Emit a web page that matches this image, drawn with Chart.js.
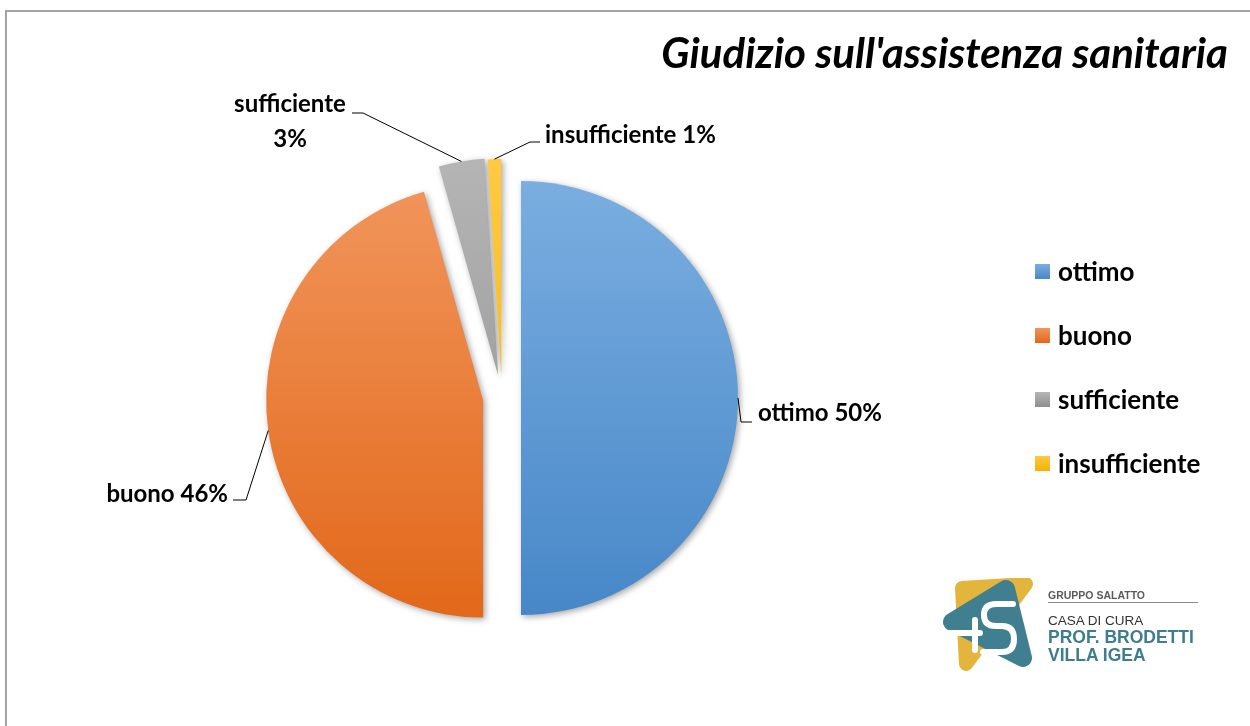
<!DOCTYPE html>
<html lang="it">
<head>
    <meta charset="UTF-8">
    <title>Giudizio sull'assistenza sanitaria</title>
    <style>
        body {
            margin: 0;
            background: #fff;
            font-family: Lato, "Open Sans", sans-serif;
        }
        .page {
            position: relative;
            width: 1250px;
            height: 726px;
            overflow: hidden;
        }
        .frame {
            position: absolute;
            left: 5px;
            top: 10px;
            width: 1300px;
            height: 800px;
            border: 2px solid #a3a3a3;
        }
        #chart {
            position: absolute;
            left: 0;
            top: 0;
        }
        .title {
            position: absolute;
            right: 22px;
            top: 30px;
            font-size: 42px;
            line-height: 44px;
            font-weight: bold;
            font-style: italic;
            color: #000;
        }
        .legend {
            position: absolute;
            left: 1035px;
            top: 239px;
        }
        .legend-item {
            display: flex;
            align-items: center;
            height: 64px;
            font-size: 26px;
            font-weight: bold;
        }
        .legend-item span.box {
            width: 15px;
            height: 15px;
            margin-right: 8px;
        }
        .logo {
            position: absolute;
            left: 942px;
            top: 578px;
        }
        .logo-line {
            position: absolute;
            left: 1048px;
            font-family: "Liberation Sans", Arial, sans-serif;
            white-space: nowrap;
            transform: translateY(-50%);
        }
        .grp {
            font-size: 10.5px;
            font-weight: bold;
            color: #5a5a5a;
            font-stretch: condensed;
        }
        .rule {
            position: absolute;
            left: 1048px;
            top: 602px;
            width: 150px;
            height: 1px;
            background: #8a8a8a;
        }
        .casa {
            font-size: 13.5px;
            color: #333;
        }
        .name {
            font-size: 17.5px;
            font-weight: bold;
            color: #3d7d8d;
        }
    </style>
</head>
<body>
<div class="page">
    <div class="frame"></div>
    <canvas id="chart" width="1250" height="726"></canvas>
    <div class="title">Giudizio sull'assistenza sanitaria</div>
    <div class="legend" id="legend"></div>

    <svg class="logo" width="94" height="96" viewBox="0 0 94 96">
        <polygon points="20,10 84,6 24,86" fill="#e3b53c" stroke="#e3b53c" stroke-width="14" stroke-linejoin="round"/>
        <polygon points="10,44 64,11 81,80" fill="#3f7f8f" stroke="#3f7f8f" stroke-width="18" stroke-linejoin="round"/>
        <path d="M4,55 L38,55 M33,42 L33,72" stroke="#fff" stroke-width="6" fill="none" stroke-linecap="round"/>
        <path d="M71,26 L54,26 Q42,26 42,37 Q42,48 54,48 L60,48 Q72,48 72,61 Q72,74 60,74 L41,74" stroke="#fff" stroke-width="6" fill="none" stroke-linecap="round"/>
    </svg>
    <div class="logo-line grp" style="top:595px">GRUPPO SALATTO</div>
    <div class="rule"></div>
    <div class="logo-line casa" style="top:620px">CASA DI CURA</div>
    <div class="logo-line name" style="top:637px">PROF. BRODETTI</div>
    <div class="logo-line name" style="top:655px">VILLA IGEA</div>
</div>

<script src="https://cdn.jsdelivr.net/npm/chart.js"></script>
<script>
    // data
    const categories = ['ottimo', 'buono', 'sufficiente', 'insufficiente'];
    const shares = [50, 45.6, 3.4, 1.0];

    // look
    const topColors = ['#7aaee0', '#f1955b', '#b5b5b5', '#ffc943'];
    const bottomColors = ['#4787c8', '#e2681a', '#8f8f8f', '#f2b300'];
    const explode = [19, 19, 23, 22];   // px each slice is pulled out
    const pieRadius = 217;

    // label text spots + leader line elbow (x, y) and end of the short horizontal tick
    const labelSpots = [
        { tx: 758, ty: 413, align: 'left',   ex: 741, ey: 422, hx: 752 },
        { tx: 228, ty: 494, align: 'right',  ex: 246, ey: 500, hx: 233 },
        { tx: 290, ty: 104, align: 'center', ex: 363, ey: 113, hx: 352, twoLines: true },
        { tx: 545, ty: 135, align: 'left',   ex: 530, ey: 142, hx: 540 }
    ];

    // legend (html)
    const legendEl = document.getElementById('legend');
    categories.forEach((name, i) => {
        const item = document.createElement('div');
        item.className = 'legend-item';
        const box = document.createElement('span');
        box.className = 'box';
        box.style.background = `linear-gradient(${topColors[i]}, ${bottomColors[i]})`;
        const txt = document.createElement('span');
        txt.textContent = name;
        item.appendChild(box);
        item.appendChild(txt);
        legendEl.appendChild(item);
    });

    function sliceFill(c) {
        const area = c.chart.chartArea;
        const i = c.dataIndex;
        if (!area) return topColors[i];
        const cy = (area.top + area.bottom) / 2;
        const g = c.chart.ctx.createLinearGradient(0, cy - pieRadius, 0, cy + pieRadius);
        g.addColorStop(0, topColors[i]);
        g.addColorStop(1, bottomColors[i]);
        return g;
    }

    // draws every arc pulled out along its middle angle, with a soft shadow
    const explodePlugin = {
        id: 'explode',
        beforeDatasetDraw(chart, args) {
            const ctx = chart.ctx;
            args.meta.data.forEach((arc, i) => {
                const mid = (arc.startAngle + arc.endAngle) / 2;
                ctx.save();
                ctx.translate(Math.cos(mid) * explode[i], Math.sin(mid) * explode[i]);
                ctx.shadowColor = 'rgba(0,0,0,0.35)';
                ctx.shadowBlur = 6;
                ctx.shadowOffsetX = 2;
                ctx.shadowOffsetY = 2;
                arc.draw(ctx, chart.chartArea);
                ctx.restore();
            });
            return false;
        }
    };

    const labelPlugin = {
        id: 'sliceLabels',
        afterDatasetsDraw(chart) {
            const ctx = chart.ctx;
            const total = shares.reduce((a, b) => a + b, 0);
            ctx.save();
            ctx.font = 'bold 24px Lato';
            ctx.fillStyle = '#000';
            ctx.strokeStyle = '#000';
            ctx.lineWidth = 1;
            ctx.textBaseline = 'middle';
            chart.getDatasetMeta(0).data.forEach((arc, i) => {
                const mid = (arc.startAngle + arc.endAngle) / 2;
                const ax = arc.x + Math.cos(mid) * (explode[i] + arc.outerRadius);
                const ay = arc.y + Math.sin(mid) * (explode[i] + arc.outerRadius);
                const s = labelSpots[i];
                ctx.beginPath();
                ctx.moveTo(ax, ay);
                ctx.lineTo(s.ex, s.ey);
                ctx.lineTo(s.hx, s.ey);
                ctx.stroke();

                const pct = Math.round(shares[i] / total * 100) + '%';
                ctx.textAlign = s.align;
                if (s.twoLines) {
                    ctx.fillText(categories[i], s.tx, s.ty);
                    ctx.fillText(pct, s.tx, s.ty + 35);
                } else {
                    ctx.fillText(categories[i] + ' ' + pct, s.tx, s.ty);
                }
            });
            ctx.restore();
        }
    };

    new Chart(document.getElementById('chart'), {
        type: 'pie',
        data: {
            labels: categories,
            datasets: [{
                data: shares,
                backgroundColor: sliceFill,
                borderWidth: 0,
                radius: pieRadius
            }]
        },
        options: {
            responsive: false,
            animation: false,
            layout: { padding: { left: 40, right: 286, top: 100, bottom: 30 } },
            plugins: {
                legend: { display: false },
                title: { display: false },
                tooltip: { enabled: false }
            }
        },
        plugins: [explodePlugin, labelPlugin]
    });
</script>
</body>
</html>
